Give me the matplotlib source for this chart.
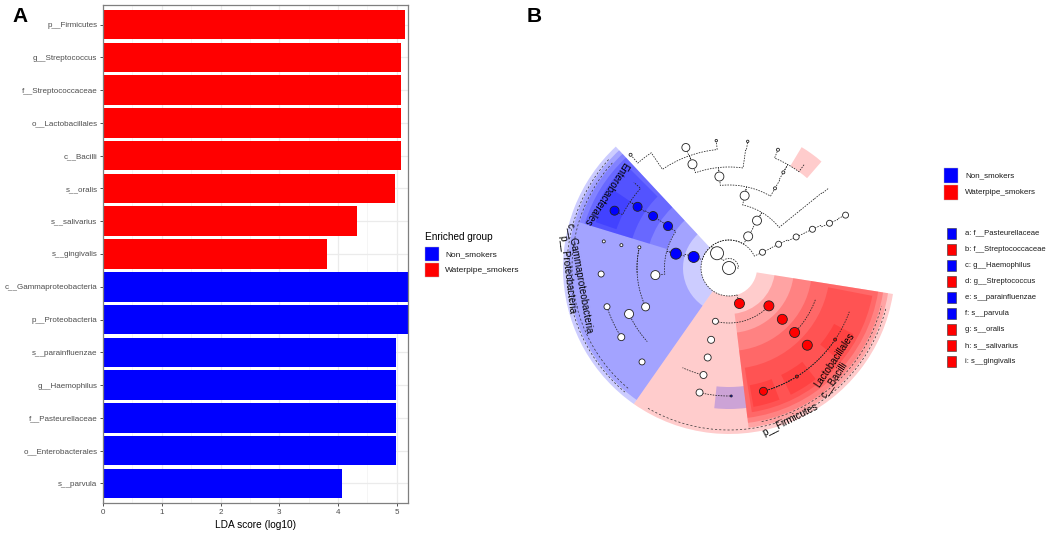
import numpy as np
import matplotlib.pyplot as plt
from matplotlib.patches import Wedge, Circle, Rectangle

plt.rcParams['font.family'] = ['Liberation Sans', 'DejaVu Sans']

# ---------------- Panel A: LDA scores ----------------
features = ['p__Firmicutes', 'g__Streptococcus', 'f__Streptococcaceae', 'o__Lactobacillales',
            'c__Bacilli', 's__oralis', 's__salivarius', 's__gingivalis',
            'c__Gammaproteobacteria', 'p__Proteobacteria', 's__parainfluenzae', 'g__Haemophilus',
            'f__Pasteurellaceae', 'o__Enterobacterales', 's__parvula']
lda = [5.14, 5.07, 5.07, 5.07, 5.07, 4.97, 4.32, 3.81,
       5.19, 5.19, 4.99, 4.98, 4.98, 4.98, 4.06]
group = ['Waterpipe_smokers'] * 8 + ['Non_smokers'] * 7
group_colors = {'Non_smokers': '#0000FF', 'Waterpipe_smokers': '#FF0000'}

# ---------------- Panel B: cladogram ----------------
level_r = [0, 19, 37, 55, 74, 92, 110, 128, 150]   # radius of each taxonomic level
# node: parent, level, angle (deg), size (radius), colour
node_parent = [-1, 0,
               1, 2, 3, 4, 5, 6, 6, 6, 5, 10, 4, 12, 13, 13, 3, 16, 17, 18, 9,
               1, 21, 22, 23, 24, 25,
               1, 27, 28, 29, 30, 31, 31, 28, 35, 36, 37, 35, 39, 40, 40, 39, 43, 35, 45, 46,
               1, 48, 49, 50, 51, 52, 52, 51, 55, 48, 57, 58, 59, 60, 60, 60, 60, 58, 65, 66]
node_level = [0, 1,
              2, 3, 4, 5, 6, 7, 7, 7, 6, 7, 5, 6, 7, 7, 4, 5, 6, 7, 8,
              2, 3, 4, 5, 6, 7,
              2, 3, 4, 5, 6, 7, 7, 4, 5, 6, 7, 5, 6, 7, 7, 6, 7, 5, 6, 7,
              2, 3, 4, 5, 6, 7, 7, 6, 7, 3, 4, 5, 6, 7, 7, 7, 7, 5, 6, 7]
node_angle = [0, 129,
              58.8, 59.4, 77.8, 96, 109.4, 109.7, 95.7, 124, 82, 81.6, 60, 60.4, 67.5, 54, 39, 39, 39, 38.7, 131,
              25.2, 25.6, 24.8, 24.9, 24, 24.4,
              162.6, 164.9, 145.5, 145.6, 146.2, 153.4, 138, 185.5, 167, 168, 168, 205, 204.7, 197.6, 212.7,
              222, 227.2, 183, 183, 182.7,
              286.4, 255.7, 256, 256.6, 256.6, 256.7, 271, 245, 242, 316.5, 316.1, 315.5, 315.4, 285.6,
              302, 326, 340, 340, 342, 344]
node_size = [6.5, 6.5,
             4.5, 4.5, 4.5, 4.5, 4.5, 4, 1.2, 0, 0, 1.2, 1.5, 1.5, 1.5, 0, 0, 0, 0, 0, 1.5,
             3, 3, 3, 3, 3, 3,
             5.5, 5.5, 4.5, 4.5, 4.5, 4.5, 0, 4.5, 1.5, 1.5, 1.5, 4, 4.5, 3, 3.5, 0, 3, 0, 0, 3,
             5, 3, 3.5, 3.5, 3.5, 3.5, 1, 0, 0, 5, 5, 5, 5, 4, 1.5, 1.5, 0, 0, 0, 0]
node_color = ['w'] * 27 + ['b'] * 6 + ['w'] * 14 + ['r'] + ['w'] * 5 + ['b'] + ['w'] * 2 + ['r'] * 7 + ['w'] * 4

# highlighted clades: start angle, end angle, level, colour
hl_start = [133, 133, 133, 133, 135, 146, 235, 277, 277, 277, 279, 280, 296, 320, 264, 49]
hl_end = [235, 235, 163, 163, 163, 161, 351, 351, 351, 351, 349, 291, 308, 332, 277, 59]
hl_level = [2, 3, 4, 5, 6, 7, 2, 3, 4, 5, 6, 7, 7, 7, 7, 7]
hl_color = ['b'] * 6 + ['r'] * 8 + ['b', 'r']

# clade names written round the circle
clade_text = ['p__Proteobacteria', 'c__Gammaproteobacteria', 'Enterobacterales',
              'p__Firmicutes', 'c__Bacilli', 'Lactobacillales']
clade_r = [162, 150, 144, 164, 153, 140]
clade_theta = [182.5, 184, 149, 292, 313.2, 318.8]
clade_rot = [-83, -80, -123, 27, 57, 56]

letter_items = ['a: f__Pasteurellaceae', 'b: f__Streptococcaceae', 'c: g__Haemophilus',
                'd: g__Streptococcus', 'e: s__parainfluenzae', 'f: s__parvula',
                'g: s__oralis', 'h: s__salivarius', 'i: s__gingivalis']
letter_colors = ['b', 'r', 'b', 'r', 'b', 'b', 'r', 'r', 'r']

cmap = {'b': '#0000FF', 'r': '#FF0000', 'w': 'white'}

W, H = 1053, 535
fig = plt.figure(figsize=(W / 100, H / 100), dpi=100)

# ---- Panel A
axA = fig.add_axes([103 / W, 1 - 503 / H, 305 / W, 498 / H])
ypos = np.arange(len(features))[::-1]
axA.barh(ypos, lda, height=0.9, color=[group_colors[g] for g in group], zorder=2)
axA.set_xlim(0, 5.19)
axA.set_ylim(-0.6, len(features) - 0.4)
axA.set_yticks(ypos)
axA.set_yticklabels(features)
axA.set_xticks(range(6))
axA.set_xticks(np.arange(0.5, 5.2, 1), minor=True)
axA.grid(which='major', color='#EBEBEB', lw=0.9, zorder=0)
axA.grid(which='minor', axis='x', color='#F2F2F2', lw=0.5, zorder=0)
axA.set_axisbelow(True)
axA.tick_params(which='major', length=2.5, width=0.6, color='#333333', labelsize=5.75,
                labelcolor='#4D4D4D', pad=1.5)
axA.tick_params(which='minor', length=0)
for s in axA.spines.values():
    s.set_color('#7F7F7F')
    s.set_linewidth(0.9)
axA.set_xlabel('LDA score (log10)', fontsize=7.3, labelpad=3)

# ---- Panel B
cx, cy = 729, 268
axB = fig.add_axes([540 / W, 20 / H, 400 / W, 500 / H])
axB.set_xlim(540 - cx, 940 - cx)
axB.set_ylim(cy - 515, cy - 15)
axB.set_aspect('equal')
axB.axis('off')


def pol(r, th):
    t = np.deg2rad(th)
    return r * np.cos(t), r * np.sin(t)


for a0, a1, lv, c in zip(hl_start, hl_end, hl_level, hl_color):
    inner = level_r[lv] - 9
    outer = 166 - 5 * (lv - 2)
    axB.add_patch(Wedge((0, 0), outer, a0, a1, width=outer - inner,
                        facecolor=cmap[c], alpha=0.2, lw=0, zorder=1))
    if lv <= 3:
        th = np.linspace(a0 + 5, a1 - 5, 80)
        x, y = pol(outer - 4, th)
        axB.plot(x, y, color='#333333', lw=0.5, ls=(0, (3, 3)), zorder=2)

for i, p in enumerate(node_parent):
    if p < 0:
        continue
    rp, rc = level_r[node_level[p]], level_r[node_level[i]]
    tp, tc = node_angle[p], node_angle[i]
    rm = (rp + rc) / 2
    d = (tc - tp + 180) % 360 - 180
    th = np.linspace(tp, tp + d, 40)
    xa, ya = pol(rm, th)
    x0, y0 = pol(rp, tp)
    x1, y1 = pol(rc, tc)
    xs = np.concatenate([[x0], xa, [x1]])
    ys = np.concatenate([[y0], ya, [y1]])
    axB.plot(xs, ys, color='#222222', lw=0.55, ls=(0, (2, 1.5)), zorder=2)

for i in range(len(node_parent)):
    if node_size[i] <= 0:
        continue
    x, y = pol(level_r[node_level[i]], node_angle[i])
    axB.add_patch(Circle((x, y), node_size[i], facecolor=cmap[node_color[i]],
                         edgecolor='#222222', lw=0.6, zorder=3))

for t, r, th, rot in zip(clade_text, clade_r, clade_theta, clade_rot):
    x, y = pol(r, th)
    axB.text(x, y, t, rotation=rot, rotation_mode='anchor', ha='center', va='center',
             fontsize=7, zorder=4)

# ---- overlay for panel letters and legends (pixel coordinates)
ov = fig.add_axes([0, 0, 1, 1], zorder=5)
ov.set_xlim(0, W)
ov.set_ylim(H, 0)
ov.axis('off')
ov.text(12, 16, 'A', fontsize=15, fontweight='bold', va='center')
ov.text(527, 16, 'B', fontsize=15, fontweight='bold', va='center')

# legend of panel A
ov.text(425, 237, 'Enriched group', fontsize=7.2, va='center')
for k, g in enumerate(['Non_smokers', 'Waterpipe_smokers']):
    ov.add_patch(Rectangle((425, 247 + 16 * k), 14, 14, facecolor=group_colors[g],
                           edgecolor='#BBBBBB', lw=0.3))
    ov.text(445, 254.5 + 16 * k, g, fontsize=6, va='center', color='#1A1A1A')

# legends of panel B
for k, g in enumerate(['Non_smokers', 'Waterpipe_smokers']):
    ov.add_patch(Rectangle((944, 168 + 16.5 * k), 14, 15, facecolor=group_colors[g],
                           edgecolor='#BBBBBB', lw=0.3))
    ov.text(965, 176 + 16.5 * k, g, fontsize=5.8, va='center', color='#1A1A1A')
for k, (lab, c) in enumerate(zip(letter_items, letter_colors)):
    yc = 233 + 16.1 * k
    ov.add_patch(Rectangle((947, yc - 5.5), 9, 11, facecolor=cmap[c], edgecolor='#333333', lw=0.4))
    ov.text(965, yc, lab, fontsize=5.5, va='center', color='#1A1A1A')

fig.savefig('out.png', dpi=100)
